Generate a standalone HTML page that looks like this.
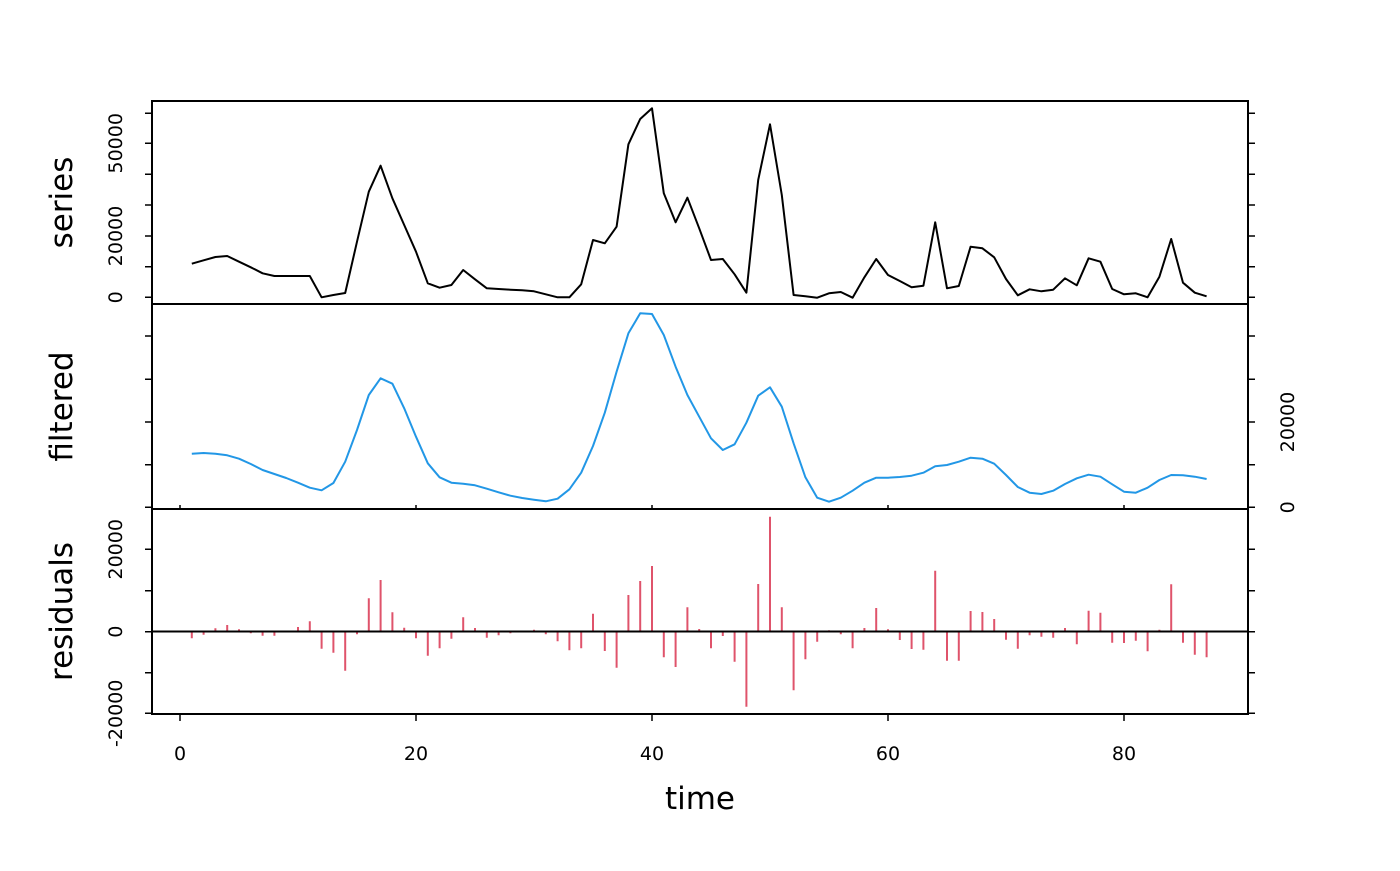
<!DOCTYPE html>
<html><head><meta charset="utf-8"><style>
html,body{margin:0;padding:0;background:#fff;}
svg text{font-family:"DejaVu Sans","Liberation Sans",sans-serif;fill:#000;}
</style></head><body>
<svg width="1400" height="866" viewBox="0 0 1400 866" xmlns="http://www.w3.org/2000/svg">
<rect width="1400" height="866" fill="#fff"/>
<polyline fill="none" stroke="#000" stroke-width="2" stroke-linejoin="round" points="191.8,263.7 203.6,260.3 215.4,257 227.2,256 239,261.7 250.8,267.3 262.6,273.3 274.4,276 286.2,276 298,276 309.8,276 321.6,297.3 333.4,295 345.2,293 357,241.7 368.8,191.7 380.6,165.7 392.4,198.3 404.2,225 416,251.7 427.8,283.3 439.6,287.7 451.4,285 463.2,270 475,279.3 486.8,288.3 498.6,289 510.4,289.7 522.2,290.3 534,291.3 545.8,294.3 557.6,297.3 569.4,297.3 581.2,284.3 593,240 604.8,243.3 616.6,226.7 628.4,144.3 640.2,119 652,108.3 663.8,193.3 675.6,222.3 687.4,197.7 699.2,228.3 711,260 722.8,259 734.6,274.3 746.4,292.7 758.2,180 770,124.3 781.8,195 793.6,295 805.4,296.3 817.2,297.7 829,293.3 840.8,292 852.6,297.7 864.4,277.3 876.2,259 888,275 899.8,281 911.6,287.3 923.4,285.7 935.2,222.3 947,288.3 958.8,286 970.6,246.7 982.4,248.3 994.2,257.3 1006,279 1017.8,295.3 1029.6,289.3 1041.4,291.3 1053.2,289.7 1065,278.3 1076.8,285.3 1088.6,258.3 1100.4,261.7 1112.2,289 1124,294.3 1135.8,293.3 1147.6,297.3 1159.4,276.7 1171.2,239 1183,282.7 1194.8,292.7 1206.6,296.3"/>
<polyline fill="none" stroke="#2297E6" stroke-width="2" stroke-linejoin="round" points="191.8,453.7 203.6,453 215.4,453.7 227.2,455.3 239,458.7 250.8,464 262.6,470 274.4,474 286.2,478 298,482.7 309.8,487.7 321.6,490.3 333.4,483 345.2,461.7 357,430 368.8,395 380.6,378.3 392.4,383.7 404.2,408.3 416,436.7 427.8,463.3 439.6,477.3 451.4,482.7 463.2,483.7 475,485.3 486.8,488.7 498.6,492.3 510.4,495.7 522.2,498 534,499.7 545.8,501.3 557.6,498.7 569.4,489.3 581.2,472.7 593,446 604.8,412.7 616.6,371.7 628.4,333.3 640.2,313.3 652,314 663.8,335 675.6,366.7 687.4,395 699.2,416.7 711,438.3 722.8,450 734.6,444.3 746.4,422.7 758.2,395.7 770,387.3 781.8,406.7 793.6,443.3 805.4,477.3 817.2,497.7 829,501.7 840.8,497.7 852.6,490.7 864.4,482.7 876.2,477.7 888,477.7 899.8,477 911.6,475.7 923.4,472.7 935.2,466.3 947,465 958.8,461.7 970.6,457.7 982.4,458.7 994.2,463.7 1006,475 1017.8,487 1029.6,492.7 1041.4,494 1053.2,490.7 1065,484 1076.8,478.3 1088.6,474.7 1100.4,476.7 1112.2,484.3 1124,491.7 1135.8,492.7 1147.6,487.7 1159.4,480 1171.2,475 1183,475.3 1194.8,476.7 1206.6,479"/>
<path fill="none" stroke="#DF536B" stroke-width="2" d="M191.8 631.5V638.3M203.6 631.5V634.7M215.4 631.5V628.3M227.2 631.5V625M239 631.5V629.3M250.8 631.5V633.3M262.6 631.5V635.7M274.4 631.5V635.7M286.2 631.5V631M298 631.5V627M309.8 631.5V621.3M321.6 631.5V648.7M333.4 631.5V652.7M345.2 631.5V670.7M357 631.5V634.3M368.8 631.5V598.3M380.6 631.5V580M392.4 631.5V612.3M404.2 631.5V627.7M416 631.5V638.3M427.8 631.5V655.7M439.6 631.5V648.3M451.4 631.5V638.7M463.2 631.5V617.3M475 631.5V628M486.8 631.5V637.7M498.6 631.5V635.3M510.4 631.5V633.3M522.2 631.5V630.7M534 631.5V629.7M545.8 631.5V634.3M557.6 631.5V641.3M569.4 631.5V650.3M581.2 631.5V648.3M593 631.5V613.7M604.8 631.5V651M616.6 631.5V667.7M628.4 631.5V595M640.2 631.5V581M652 631.5V566M663.8 631.5V657.3M675.6 631.5V667M687.4 631.5V607.3M699.2 631.5V629M711 631.5V648.3M722.8 631.5V636M734.6 631.5V661.7M746.4 631.5V706.7M758.2 631.5V584M770 631.5V516.7M781.8 631.5V607.3M793.6 631.5V690.3M805.4 631.5V659.3M817.2 631.5V641.7M829 631.5V630.3M840.8 631.5V634.3M852.6 631.5V648.3M864.4 631.5V628M876.2 631.5V608M888 631.5V629.3M899.8 631.5V640M911.6 631.5V649M923.4 631.5V649.7M935.2 631.5V570.7M947 631.5V660.7M958.8 631.5V660.7M970.6 631.5V611M982.4 631.5V612M994.2 631.5V619M1006 631.5V639.7M1017.8 631.5V648.7M1029.6 631.5V635.3M1041.4 631.5V636.7M1053.2 631.5V637.7M1065 631.5V628M1076.8 631.5V644.3M1088.6 631.5V610.7M1100.4 631.5V612.7M1112.2 631.5V642.7M1124 631.5V643M1135.8 631.5V640.7M1147.6 631.5V651.3M1159.4 631.5V629.7M1171.2 631.5V584.3M1183 631.5V642.7M1194.8 631.5V654.7M1206.6 631.5V657.3"/>
<line x1="152" x2="1248" y1="631.5" y2="631.5" stroke="#000" stroke-width="2"/>
<rect x="152" y="101" width="1096" height="613" fill="none" stroke="#000" stroke-width="2"/>
<line x1="152" x2="1248" y1="304" y2="304" stroke="#000" stroke-width="2"/>
<line x1="152" x2="1248" y1="509" y2="509" stroke="#000" stroke-width="2"/>
<path fill="none" stroke="#000" stroke-width="1.5" d="M145 113.3H152M145 143.3H152M145 174.3H152M145 205H152M145 236H152M145 266.7H152M145 297.3H152M1248 113.3H1255M1248 143.3H1255M1248 174.3H1255M1248 205H1255M1248 236H1255M1248 266.7H1255M1248 297.3H1255M145 336H152M145 379.3H152M145 422H152M145 464.7H152M145 507.3H152M1248 336H1255M1248 379.3H1255M1248 422H1255M1248 464.7H1255M1248 507.3H1255M145 549.3H152M145 590.7H152M145 631.7H152M145 672.7H152M145 713.3H152M1248 549.3H1255M1248 590.7H1255M1248 631.7H1255M1248 672.7H1255M1248 713.3H1255M180 714V721M416 714V721M652 714V721M888 714V721M1124 714V721M180 505V509M416 505V509M652 505V509M888 505V509M1124 505V509"/>
<g font-size="19" text-anchor="middle">
<text x="180" y="760">0</text><text x="416" y="760">20</text><text x="652" y="760">40</text><text x="888" y="760">60</text><text x="1124" y="760">80</text>
<text transform="translate(122,297.3) rotate(-90)">0</text>
<text transform="translate(122,236) rotate(-90)">20000</text>
<text transform="translate(122,143.3) rotate(-90)">50000</text>
<text transform="translate(122,549.3) rotate(-90)">20000</text>
<text transform="translate(122,631.7) rotate(-90)">0</text>
<text transform="translate(122,713.3) rotate(-90)">-20000</text>
<text transform="translate(1294,422) rotate(-90)">20000</text>
<text transform="translate(1294,507.3) rotate(-90)">0</text>
</g>
<g font-size="31" text-anchor="middle">
<text transform="translate(72,202.5) rotate(-90)">series</text>
<text transform="translate(72,406.5) rotate(-90)">filtered</text>
<text transform="translate(72,611.5) rotate(-90)">residuals</text>
<text x="700" y="809">time</text>
</g>
</svg>
</body></html>
